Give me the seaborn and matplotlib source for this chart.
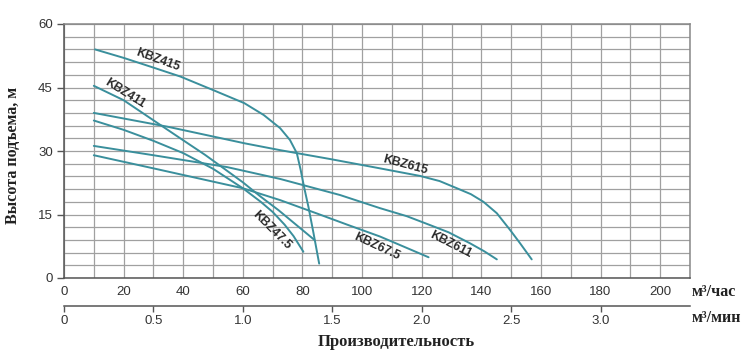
import numpy as np
import pandas as pd
import matplotlib
matplotlib.use("Agg")
import matplotlib.pyplot as plt
from matplotlib.ticker import MultipleLocator
import seaborn as sns

# ---- data (flow m3/h, head m) ----
models = ["KBZ415", "KBZ411", "KBZ47.5", "KBZ615", "KBZ611", "KBZ67.5"]

q_kbz415 = [10.4, 20, 30, 39, 50, 60.5, 67, 72.5, 75.8, 78.1, 79.4, 80.5, 82, 83.7, 85.6]
h_kbz415 = [54.0, 52.0, 49.7, 47.6, 44.4, 41.3, 38.5, 35.4, 32.6, 29.5, 25.5, 21.6, 16.8, 10.6, 3.4]

q_kbz411 = [10, 20, 33.5, 39, 47.3, 53, 60, 66, 72, 78, 84]
h_kbz411 = [45.4, 42.0, 35.6, 33.0, 29.1, 26.2, 22.6, 19.2, 16.0, 12.5, 9.0]

q_kbz475 = [10, 20, 30, 40, 50, 60, 66, 70, 74, 77, 80.3]
h_kbz475 = [37.2, 35.0, 32.4, 29.5, 25.8, 21.2, 18.0, 15.6, 12.6, 9.9, 6.2]

q_kbz615 = [10, 35, 60.7, 72.5, 89.3, 106, 119.5, 126, 131.8, 136.5, 140.7, 145.2, 149.7, 153, 156.9]
h_kbz615 = [39.0, 35.7, 31.8, 30.2, 28.1, 25.9, 24.1, 22.9, 21.2, 19.8, 18.0, 15.3, 11.3, 8.2, 4.4]

q_kbz611 = [10, 30, 54.7, 72.5, 92.6, 106, 115, 122.8, 129, 136.2, 141, 145.2]
h_kbz611 = [31.2, 29.0, 26.2, 23.4, 19.6, 16.5, 14.6, 12.5, 10.8, 8.2, 6.3, 4.4]

q_kbz675 = [10, 30, 60, 72.5, 85, 95, 106, 114, 122.3]
h_kbz675 = [29.0, 25.9, 21.2, 18.4, 15.2, 12.6, 9.8, 7.4, 4.9]

# label positions / angles
label_x = [31.6, 20.5, 69.8, 114.4, 129.8, 105.0]
label_y = [51.5, 43.6, 11.3, 26.7, 7.8, 7.3]
label_rot = [-20, -32, -45, -15, -27, -25]

x_ticks = [0, 20, 40, 60, 80, 100, 120, 140, 160, 180, 200]
y_ticks = [0, 15, 30, 45, 60]
sec_ticks = [0, 0.5, 1.0, 1.5, 2.0, 2.5, 3.0]
sec_labels = ["0", "0.5", "1.0", "1.5", "2.0", "2.5", "3.0"]

series = {
    "KBZ415": (q_kbz415, h_kbz415),
    "KBZ411": (q_kbz411, h_kbz411),
    "KBZ47.5": (q_kbz475, h_kbz475),
    "KBZ615": (q_kbz615, h_kbz615),
    "KBZ611": (q_kbz611, h_kbz611),
    "KBZ67.5": (q_kbz675, h_kbz675),
}

rows = []
for m in models:
    q, h = series[m]
    for a, b in zip(q, h):
        rows.append({"model": m, "q": a, "h": b})
df = pd.DataFrame(rows)

sns.set_style("white")
plt.rcParams["font.family"] = ["Liberation Sans", "DejaVu Sans"]

line_color = "#3a8f9c"
fig = plt.figure(figsize=(7.5, 3.57), dpi=100)
ax = fig.add_axes([64 / 750, 1 - 278 / 357, (690 - 64) / 750, (278 - 24) / 357])

sns.lineplot(data=df, x="q", y="h", hue="model", palette={m: line_color for m in models},
             legend=False, sort=False, estimator=None, lw=1.4, ax=ax)
for ln in ax.get_lines():
    ln.set_solid_joinstyle("round")
    ln.set_solid_capstyle("round")

ax.set_xlim(0, 210)
ax.set_ylim(0, 60)
ax.set_xticks(x_ticks)
ax.set_yticks(y_ticks)
ax.xaxis.set_minor_locator(MultipleLocator(10))
ax.yaxis.set_minor_locator(MultipleLocator(3))
ax.grid(True, which="both", color="#a0a0a0", lw=0.9)
ax.set_axisbelow(True)
ax.tick_params(axis="x", which="both", length=0, pad=6, labelsize=9.5, colors="#333333")
ax.tick_params(axis="y", which="major", length=5, width=1, pad=3, labelsize=9.5,
               colors="#555555", labelcolor="#333333", left=True)
ax.tick_params(axis="y", which="minor", length=0)
ax.set_xlabel("")
ax.set_ylabel("")
for s in ["left", "bottom"]:
    ax.spines[s].set_color("#555555")
    ax.spines[s].set_linewidth(1.1)
for s in ["top", "right"]:
    ax.spines[s].set_color("#888888")
    ax.spines[s].set_linewidth(1.1)

for m, lx, ly, rot in zip(models, label_x, label_y, label_rot):
    ax.text(lx, ly, m, rotation=rot, ha="center", va="center", fontsize=8.8,
            fontweight="bold", color="#2a2a2a", rotation_mode="anchor")

sec = ax.secondary_xaxis(-0.109, functions=(lambda x: x / 60.0, lambda x: x * 60.0))
sec.set_xticks(sec_ticks)
sec.set_xticklabels(sec_labels)
sec.tick_params(axis="x", length=4, width=1, direction="out", pad=3, labelsize=9.5,
                colors="#555555", labelcolor="#333333")
sec.spines["bottom"].set_color("#555555")
sec.spines["bottom"].set_linewidth(1.1)

serif = ["Liberation Serif", "DejaVu Serif"]
fig.text(13 / 750, 1 - 155 / 357, "Высота подъема, м", rotation=90, ha="center", va="center",
         fontsize=11.5, fontweight="bold", family=serif, color="#222222")
fig.text(396 / 750, 1 - 342 / 357, "Производительность", ha="center", va="center",
         fontsize=12, fontweight="bold", family=serif, color="#222222")
fig.text(692 / 750, 1 - 292 / 357, "м³/час", ha="left", va="center",
         fontsize=11.5, fontweight="bold", family=serif, color="#222222")
fig.text(692 / 750, 1 - 318 / 357, "м³/мин", ha="left", va="center",
         fontsize=11.5, fontweight="bold", family=serif, color="#222222")

fig.savefig("out.png", dpi=100)
